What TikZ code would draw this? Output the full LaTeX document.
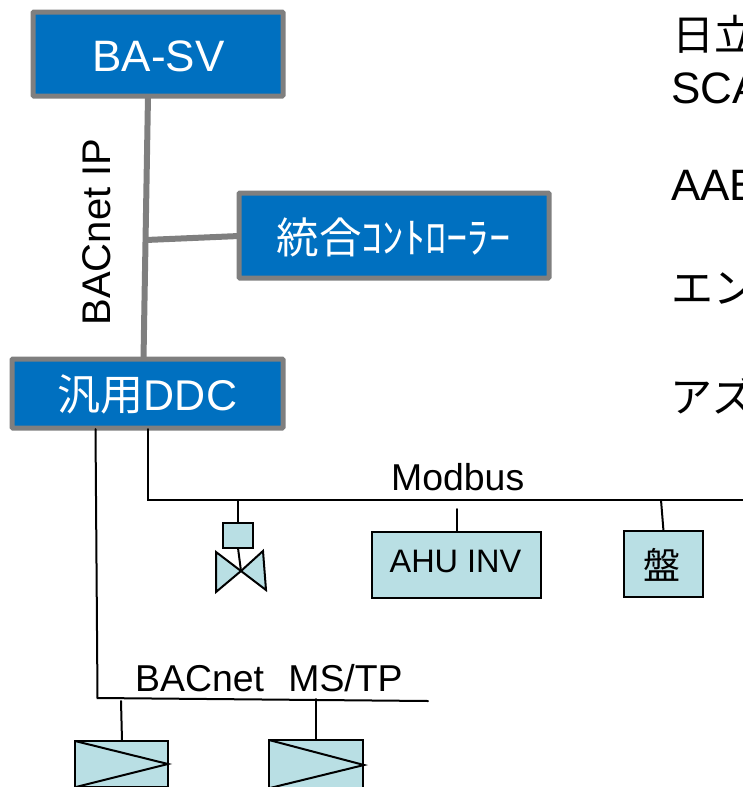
\documentclass[tikz,border=0pt]{standalone}
\usepackage{fontspec}
\setmainfont{Liberation Sans}
\newfontfamily\jp{Noto Sans CJK JP}
\usetikzlibrary{calc}
\tikzset{
  bluebox/.style={draw=boxgray,line width=5pt,fill=boxblue,text=white,inner sep=0pt,rounded corners=0.8pt,anchor=north west},
  tealbox/.style={draw=black,line width=2pt,fill=boxteal,inner sep=0pt,anchor=north west},
  greyline/.style={draw=boxgray,line width=6pt},
  busline/.style={draw=black,line width=2pt,line cap=round},
  lbl/.style={inner sep=0pt,text=black,anchor=base west}
}
\definecolor{boxblue}{HTML}{0070C0}
\definecolor{boxgray}{HTML}{7F7F7F}
\definecolor{boxteal}{HTML}{B9DFE4}
\begin{document}
\begin{tikzpicture}[x=1pt,y=-1pt]
\useasboundingbox (0,0) rectangle (743,787);
\clip (0,0) rectangle (743,787);
% grey links
\coordinate (svb) at (148,96);
\coordinate (ddct1) at (143.5,359);
\coordinate (jn) at (146,240);
\coordinate (ctll) at (239,236);
\draw[greyline] (svb) -- (ddct1);
\draw[greyline] (jn) -- (ctll);
% blue boxes
\node[bluebox,minimum width=250pt,minimum height=84pt] (sv) at (30.5,9.5) {};
\node[font=\fontsize{44}{44}\selectfont,text=white,inner sep=0pt] (svt) at (158.5,56) {BA-SV};
\node[bluebox,minimum width=310pt,minimum height=85pt] (ctl) at (236.5,190.5) {};
\node[font=\fontsize{42.5}{42.5}\selectfont,text=white,inner sep=0pt] (ctlt) at (393.5,237) {\jp 統合ｺﾝﾄﾛｰﾗｰ};
\node[bluebox,minimum width=271pt,minimum height=69pt] (ddc) at (9.5,356.5) {};
\node[font=\fontsize{43}{43}\selectfont,text=white,inner sep=0pt] (ddct) at (147.5,394) {{\jp 汎用}DDC};
\node[rotate=90,font=\fontsize{40}{40}\selectfont,inner sep=0pt] (ip) at (97,232) {BACnet IP};
% Modbus bus
\coordinate (mb0) at (148,429);
\coordinate (mb1) at (148,500);
\coordinate (mb2) at (750,500);
\draw[busline] (mb0) -- (mb1) -- (mb2);
\node[lbl,font=\fontsize{37.4}{37.4}\selectfont] (mbl) at (391,490) {Modbus};
% valve
\coordinate (mv) at (238,500);
\coordinate (vc) at (241,571);
\coordinate (vl1) at (216,552);
\coordinate (vl2) at (216,592);
\coordinate (vr1) at (263,551);
\coordinate (vr2) at (266,590);
\draw[busline] (mv) -- (238,523);
\draw[busline] (238,548) -- (vc);
\node[tealbox,minimum width=30pt,minimum height=25pt] (act) at (222,522) {};
\draw[tealbox] (vl1) -- (vc) -- (vl2) -- cycle;
\draw[tealbox] (vr1) -- (vc) -- (vr2) -- cycle;
% AHU INV
\coordinate (ma) at (457,509);
\draw[busline] (ma) -- (457,531);
\node[tealbox,minimum width=169pt,minimum height=66pt] (ahu) at (371,531) {};
\node[font=\fontsize{32.5}{32.5}\selectfont,inner sep=0pt] (ahut) at (455.5,561) {AHU INV};
% panel
\coordinate (mp) at (661,500);
\draw[busline] (mp) -- (663.5,531);
\node[tealbox,minimum width=79pt,minimum height=66pt] (pnl) at (623,530) {};
\node[font=\fontsize{37}{37}\selectfont\jp,inner sep=0pt] (pnlt) at (662,565) {盤};
% MS/TP bus
\coordinate (b0) at (95.5,429);
\coordinate (b1) at (97.5,698);
\coordinate (b2) at (428,701);
\draw[busline] (b0) -- (b1) -- (b2);
\node[lbl,font=\fontsize{37.4}{37.4}\selectfont] (bl) at (135,691) {BACnet\ \ \hspace{3.5pt}MS/TP};
% damper boxes
\coordinate (d1t) at (121,701);
\coordinate (d2t) at (316,699);
\draw[busline] (d1t) -- (122,741);
\draw[busline] (d2t) -- (316,740);
\node[tealbox,minimum width=93pt,minimum height=46pt] (d1) at (74,740) {};
\node[tealbox,minimum width=94pt,minimum height=48pt] (d2) at (268,739) {};
\coordinate (d1r) at (168,764);
\coordinate (d2r) at (364,765);
\draw[busline] (d1.north west) ++(1,1) -- (d1r) -- (76,787);
\draw[busline] (d2.north west) ++(1,1) -- (d2r) -- (270,788);
% right column
\node[lbl,font=\fontsize{42}{42}\selectfont\jp] (t1) at (672,50) {日立};
\node[lbl,font=\fontsize{44}{44}\selectfont] (t2) at (671,103) {SCA};
\node[lbl,font=\fontsize{44}{44}\selectfont] (t3) at (671,200) {AAB};
\node[lbl,font=\fontsize{42}{42}\selectfont\jp] (t4) at (671,303) {エン};
\node[lbl,font=\fontsize{42}{42}\selectfont\jp] (t5) at (670,412) {アズ};
\end{tikzpicture}
\end{document}
